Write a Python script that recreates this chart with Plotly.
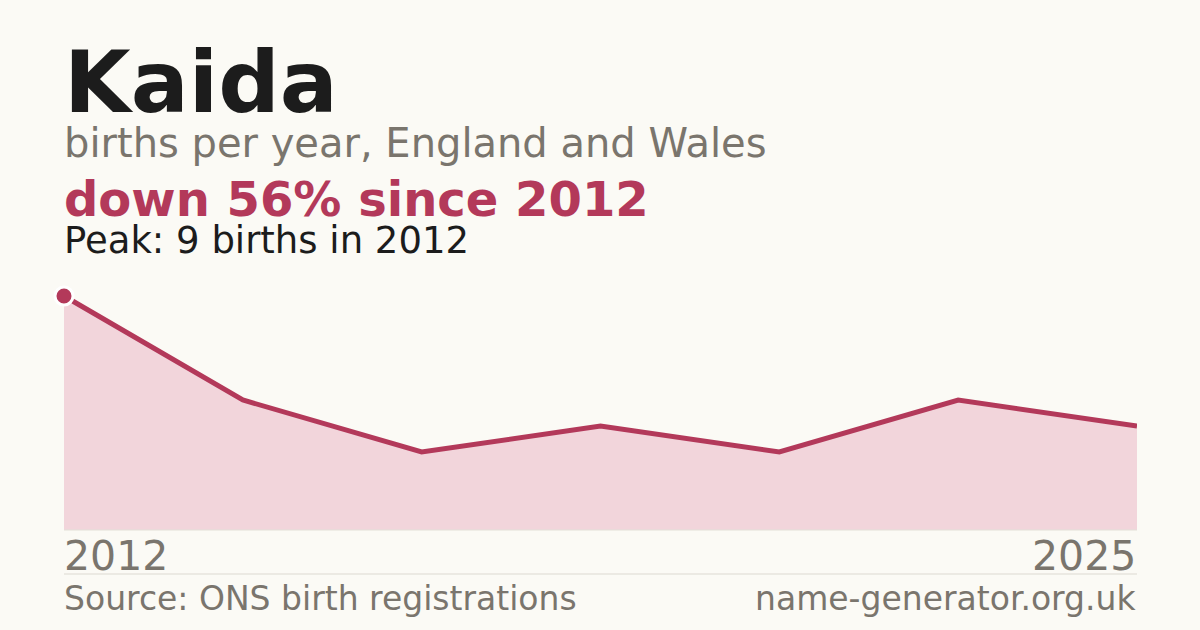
import plotly.graph_objects as go

# births per year, index positions across the period
births = [9, 5, 3, 4, 3, 5, 4]
first_year = "2012"
last_year = "2025"

name = "Kaida"
subtitle = "births per year, England and Wales"
change_text = "down 56% since 2012"
peak_text = "Peak: 9 births in 2012"
source_text = "Source: ONS birth registrations"
site_text = "name-generator.org.uk"

RED = "#b3395a"
FILL = "#f2d5db"
BG = "#fbfaf5"
GREY = "#7a756d"
INK = "#1c1c1c"

W, H = 1200, 630
ML, MR, MT, MB = 64, 63, 270, 100
PH = H - MT - MB


def py(px):
    # pixel row -> paper y
    return (H - MB - px) / PH


x_idx = list(range(len(births)))
peak_i = births.index(max(births))

fig = go.Figure()
fig.add_trace(
    go.Scatter(
        x=x_idx,
        y=births,
        mode="lines",
        fill="tozeroy",
        fillcolor=FILL,
        line=dict(color=RED, width=5),
        hoverinfo="skip",
    )
)
fig.add_trace(
    go.Scatter(
        x=[x_idx[peak_i]],
        y=[births[peak_i]],
        mode="markers",
        marker=dict(size=18, color=RED, line=dict(color="white", width=3)),
        cliponaxis=False,
        hoverinfo="skip",
    )
)


def label(text, x, ypx, size, color, bold=False, anchor="left"):
    fig.add_annotation(
        text=f"<b>{text}</b>" if bold else text,
        xref="paper",
        yref="paper",
        x=x,
        y=py(ypx),
        xanchor=anchor,
        yanchor="middle",
        xshift=-1 if anchor == "left" else 0,
        borderpad=0,
        showarrow=False,
        font=dict(family="DejaVu Sans", size=size, color=color),
    )


label(name, 0, 82, 86, INK, bold=True)
label(subtitle, 0, 143, 40, GREY)
label(change_text, 0, 199, 48, RED, bold=True)
label(peak_text, 0, 240, 37, INK)
label(first_year, 0, 556, 41, GREY)
label(last_year, 1, 556, 41, GREY, anchor="right")
label(source_text, 0, 598, 33, GREY)
label(site_text, 1, 598, 33, GREY, anchor="right")

fig.add_shape(
    type="line", xref="paper", yref="paper",
    x0=0, x1=1, y0=py(574), y1=py(574),
    line=dict(color="#dcd9d1", width=1),
)
fig.add_shape(
    type="line", xref="paper", yref="paper",
    x0=0, x1=1, y0=0, y1=0,
    line=dict(color="#e3e0d8", width=1),
)

fig.update_layout(
    width=W,
    height=H,
    margin=dict(l=ML, r=MR, t=MT, b=MB),
    paper_bgcolor=BG,
    plot_bgcolor=BG,
    showlegend=False,
    xaxis=dict(range=[0, len(births) - 1], visible=False, fixedrange=True),
    yaxis=dict(range=[0, 10], visible=False, fixedrange=True),
)

fig.write_html(
    "out.html",
    config={"displayModeBar": False},
    post_script="document.body.style.margin='0';",
)
